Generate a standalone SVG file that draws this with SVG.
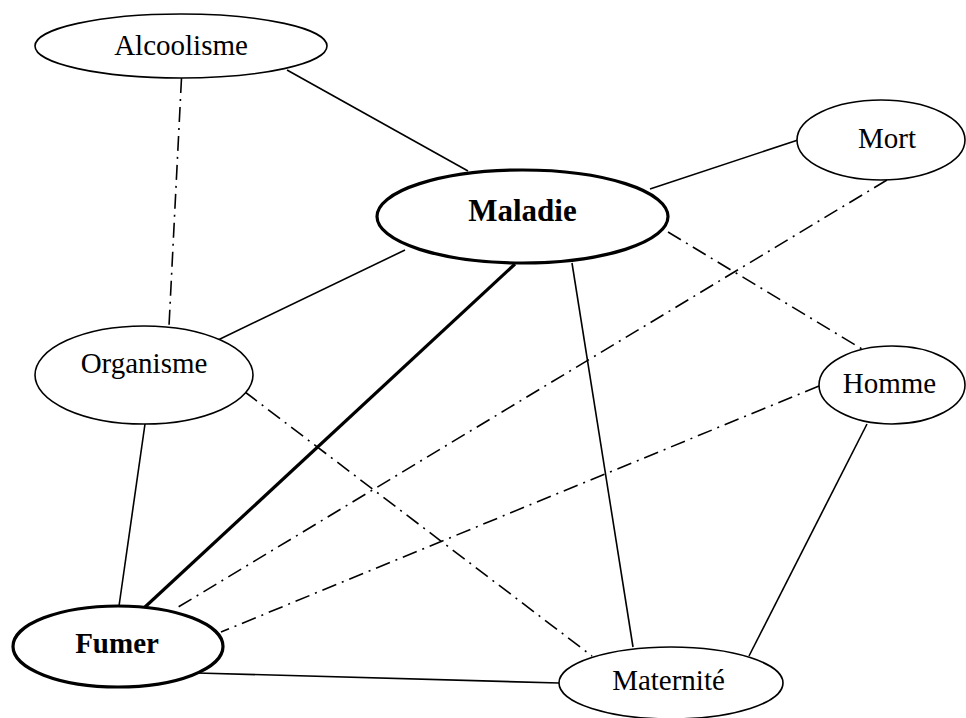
<svg xmlns="http://www.w3.org/2000/svg" width="966" height="718" viewBox="0 0 966 718">
<style>
.node{fill:#fff;stroke:#000;stroke-width:1.6}
.bold{stroke-width:3.2}
.t{font-family:"Liberation Serif","Times New Roman",serif;font-size:29px;fill:#000;text-anchor:middle}
.tb{font-weight:bold}
.e{stroke:#000;stroke-width:1.6;fill:none}
.dd{stroke-dasharray:15 6 2 6}
.thick{stroke-width:3.2}
</style>
<rect width="966" height="718" fill="#fff"/>
<g id="connectors">
<line class="e" x1="287" y1="70" x2="468" y2="171"/>
<line class="e dd" x1="181.5" y1="78" x2="169" y2="326"/>
<line class="e" x1="650" y1="189" x2="798" y2="140"/>
<line class="e dd" x1="668" y1="232" x2="862" y2="349"/>
<line class="e" x1="405" y1="250" x2="218" y2="340"/>
<line class="e thick" x1="515" y1="264" x2="145" y2="607"/>
<line class="e" x1="572" y1="263" x2="633" y2="647"/>
<line class="e dd" x1="887" y1="180" x2="175" y2="609"/>
<line class="e dd" x1="819" y1="386" x2="221" y2="632"/>
<line class="e" x1="867" y1="424" x2="749" y2="656"/>
<line class="e dd" x1="245" y1="392" x2="592" y2="656"/>
<line class="e" x1="145" y1="424" x2="119" y2="606"/>
<line class="e" x1="197" y1="673" x2="559" y2="683"/>
</g>
<g id="alcoolisme">
<ellipse class="node" cx="181" cy="46" rx="146" ry="32"/>
<text class="t" x="181" y="55">Alcoolisme</text>
</g>
<g id="maladie">
<ellipse class="node bold" cx="522.5" cy="216.5" rx="145.5" ry="46.5"/>
<text class="t tb" x="522.5" y="221" style="font-size:31px">Maladie</text>
</g>
<g id="mort">
<ellipse class="node" cx="881" cy="140" rx="84" ry="40"/>
<text class="t" x="887" y="148">Mort</text>
</g>
<g id="organisme">
<ellipse class="node" cx="144" cy="375" rx="109" ry="49"/>
<text class="t" x="144" y="373">Organisme</text>
</g>
<g id="homme">
<ellipse class="node" cx="892" cy="385" rx="73" ry="39"/>
<text class="t" x="889.5" y="393">Homme</text>
</g>
<g id="fumer">
<ellipse class="node bold" cx="118" cy="646.5" rx="105" ry="40.5"/>
<text class="t tb" x="117" y="653">Fumer</text>
</g>
<g id="maternite">
<ellipse class="node" cx="671" cy="683" rx="112" ry="36"/>
<text class="t" x="668.5" y="690">Maternité</text>
</g>
</svg>
